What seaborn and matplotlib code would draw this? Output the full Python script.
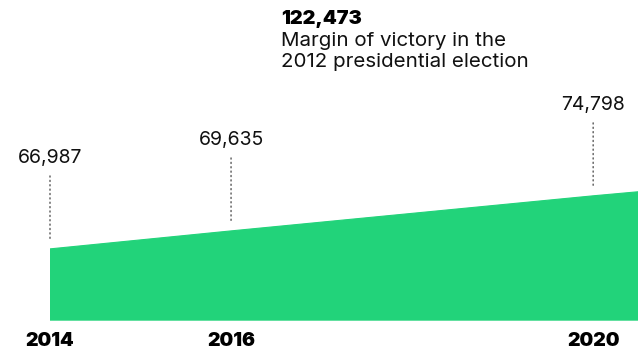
import matplotlib
matplotlib.use('Agg')
import matplotlib.pyplot as plt
import numpy as np
import pandas as pd
import seaborn as sns

# Data
years = [2014, 2016, 2020, 2022]
values = [66987, 69635, 74798, 77200]   # 2022 is past the right edge (estimated)
labelled_years = [2014, 2016, 2020]
tick_labels = ['2014', '2016', '2020']
margin_2012 = 122473
margin_text = ['Margin of victory in the', '2012 presidential election']

green = '#22d37a'

df = pd.DataFrame({'year': years, 'value': values})

sns.set_style('white')
plt.rcParams['font.family'] = ['Inter', 'DejaVu Sans']

fig = plt.figure(figsize=(6.39, 3.49), dpi=100)
ax = fig.add_axes([50 / 639, 28.3 / 349, 587.5 / 639, 320.7 / 349])

sns.lineplot(data=df, x='year', y='value', color=green, linewidth=0.8, ax=ax)
ax.fill_between(df['year'], df['value'], 56419, color=green, linewidth=0)

ax.set_xlim(2014, 2020.49)
ax.set_ylim(56419, 103616)

# value labels with dotted leader lines
for yr, val in zip(years, values):
    if yr not in labelled_years:
        continue
    ax.annotate('', xy=(yr, val), xytext=(0, 73), textcoords='offset pixels',
                xycoords='data',
                arrowprops=dict(arrowstyle='-', linestyle=(0, (1, 2.5)), color='#444444',
                                lw=0.9, shrinkA=0, shrinkB=10 * 0.72))
    ax.annotate(f'{val:,}', xy=(yr, val), xytext=(0, 91), textcoords='offset pixels',
                ha='center', va='center', fontsize=14, color='#111111')

ax.set_xticks(labelled_years)
ax.set_xticklabels(tick_labels, fontsize=14, fontweight='black', color='#000000')
ax.set_yticks([])
ax.tick_params(axis='x', length=0, pad=8)
ax.set_xlabel('')
ax.set_ylabel('')
for s in ax.spines.values():
    s.set_visible(False)
ax.patch.set_alpha(0)

# annotation at the top
fig.text(281 / 639, 1 - 19.5 / 349, f'{margin_2012:,}', ha='left', va='center',
         fontsize=14.3, fontweight='black', color='#000000')
for i, line in enumerate(margin_text):
    fig.text(281 / 639, 1 - (41 + 21 * i) / 349, line, ha='left', va='center',
             fontsize=14.8, color='#111111')

fig.savefig('out.png', dpi=100)
